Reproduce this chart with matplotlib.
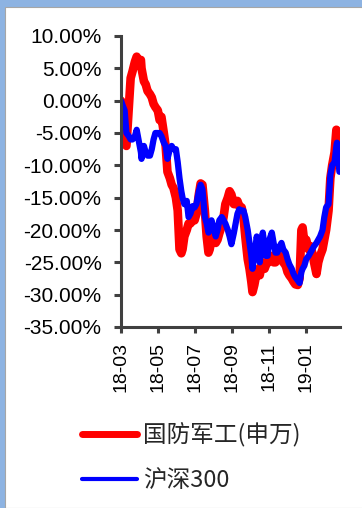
import pandas as pd
import matplotlib
matplotlib.use('Agg')
import matplotlib.pyplot as plt
import matplotlib.dates as mdates
from matplotlib.lines import Line2D
from matplotlib.patches import Rectangle
from matplotlib.ticker import FuncFormatter, MultipleLocator

# Cumulative return since 2018-03-01 (%)
dates = ['2018-03-01', '2018-03-04', '2018-03-07', '2018-03-10', '2018-03-14', '2018-03-17',
         '2018-03-20', '2018-03-24', '2018-03-27', '2018-03-30', '2018-04-03', '2018-04-04',
         '2018-04-08', '2018-04-11', '2018-04-14', '2018-04-18', '2018-04-21', '2018-04-24',
         '2018-04-27', '2018-05-01', '2018-05-04', '2018-05-07', '2018-05-11', '2018-05-14',
         '2018-05-17', '2018-05-21', '2018-05-24', '2018-05-27', '2018-05-31', '2018-06-03',
         '2018-06-06', '2018-06-09', '2018-06-11', '2018-06-14', '2018-06-18', '2018-06-21',
         '2018-06-24', '2018-06-28', '2018-07-01', '2018-07-04', '2018-07-08', '2018-07-11',
         '2018-07-14', '2018-07-18', '2018-07-21', '2018-07-24', '2018-07-26', '2018-07-29',
         '2018-08-01', '2018-08-05', '2018-08-08', '2018-08-11', '2018-08-15', '2018-08-18',
         '2018-08-21', '2018-08-25', '2018-08-28', '2018-08-31', '2018-09-04', '2018-09-07',
         '2018-09-10', '2018-09-13', '2018-09-17', '2018-09-20', '2018-09-23', '2018-09-27',
         '2018-09-30', '2018-10-03', '2018-10-05', '2018-10-08', '2018-10-12', '2018-10-15',
         '2018-10-17', '2018-10-20', '2018-10-22', '2018-10-25', '2018-10-27', '2018-10-30',
         '2018-11-02', '2018-11-06', '2018-11-09', '2018-11-12', '2018-11-15', '2018-11-19',
         '2018-11-22', '2018-11-25', '2018-11-29', '2018-12-02', '2018-12-05', '2018-12-09',
         '2018-12-12', '2018-12-15', '2018-12-19', '2018-12-22', '2018-12-25', '2018-12-27',
         '2018-12-30', '2019-01-02', '2019-01-06', '2019-01-09', '2019-01-12', '2019-01-15',
         '2019-01-19', '2019-01-22', '2019-01-25', '2019-01-29', '2019-02-01', '2019-02-04',
         '2019-02-08', '2019-02-11', '2019-02-14', '2019-02-18', '2019-02-21', '2019-02-22',
         '2019-02-26']

defense = [0.0, -2.5, -6.5, -7.0, -1.0, 3.5,
           4.5, 6.0, 6.8, 6.0, 6.3, 5.0,
           3.0, 2.5, 1.5, 1.0, 0.5, -0.5,
           -1.0, -1.5, -3.0, -2.5, -5.0, -7.0,
           -11.0, -12.0, -13.0, -13.5, -15.0, -17.0,
           -23.0, -23.6, -23.0, -21.0, -20.0, -19.0,
           -19.0, -18.5, -18.5, -17.5, -14.5, -12.8,
           -13.0, -17.0, -21.0, -23.5, -23.0, -21.5,
           -21.0, -22.0, -21.5, -20.5, -19.4, -18.0,
           -16.0, -15.0, -14.0, -14.5, -16.0, -16.0,
           -15.5, -16.3, -16.5, -18.0, -21.0, -24.5,
           -26.0, -28.0, -29.6, -28.5, -26.5, -26.0,
           -27.0, -25.5, -25.0, -26.0, -25.5, -25.0,
           -24.5, -24.0, -25.0, -25.0, -24.5, -24.0,
           -24.5, -25.0, -25.5, -26.5, -27.0, -27.5,
           -28.0, -28.4, -28.5, -27.5, -20.0, -19.6,
           -22.0, -21.5, -23.0, -22.5, -23.5, -25.0,
           -26.8, -25.0, -24.0, -23.0, -21.5, -20.0,
           -17.0, -12.0, -10.0, -8.0, -4.5, -5.0,
           -9.5]

hs300 = [0.0, -0.8, -1.5, -5.0, -5.5, -6.0,
         -6.0, -5.5, -4.5, -6.0, -8.0, -9.0,
         -7.0, -8.0, -8.5, -8.5, -7.5, -6.0,
         -5.0, -5.0, -5.0, -5.5, -6.5, -7.0,
         -9.0, -7.5, -7.0, -7.5, -7.5, -9.5,
         -12.0, -14.0, -15.0, -16.0, -15.5, -18.0,
         -17.5, -16.3, -16.5, -16.0, -14.0, -13.0,
         -13.7, -18.0, -19.0, -20.4, -20.0, -18.5,
         -19.5, -21.0, -20.0, -18.5, -18.0, -18.5,
         -19.0, -20.0, -21.0, -22.2, -20.5, -19.0,
         -17.5, -16.8, -17.0, -17.0, -18.0, -20.0,
         -22.0, -24.0, -26.0, -24.0, -21.0, -23.0,
         -25.0, -22.0, -20.4, -22.5, -24.0, -24.0,
         -21.5, -20.4, -22.0, -23.5, -23.5, -22.5,
         -22.0, -23.0, -23.5, -24.5, -25.3, -26.0,
         -26.8, -27.3, -27.8, -28.2, -26.5, -26.0,
         -25.5, -24.5, -24.0, -23.5, -23.0, -22.5,
         -22.0, -21.5, -21.0, -20.0, -18.0, -16.5,
         -16.0, -11.5, -10.0, -9.5, -7.0, -6.5,
         -11.0]

labels = ['国防军工(申万)', '沪深300']

df = pd.DataFrame({'date': pd.to_datetime(dates), 'defense': defense, 'hs300': hs300})

fig = plt.figure(figsize=(3.62, 5.08), dpi=100)
fig.patch.set_facecolor('#8db3e2')
fig.patches.append(Rectangle((5 / 362, 0), 1, 1 - 7 / 508, transform=fig.transFigure,
                             facecolor='white', edgecolor='#a6a6a6', linewidth=0.8, zorder=-1))

ax = fig.add_axes([121 / 362, 1 - 327 / 508, (340 - 121) / 362, (327 - 36) / 508])
ax.set_facecolor('none')
ax.set_zorder(1)

ax.plot(df['date'], df['defense'], color='#ff0000', linewidth=6.2, solid_joinstyle='round',
        solid_capstyle='round')
ax.plot(df['date'], df['hs300'], color='#0000ff', linewidth=4.5, solid_joinstyle='round',
        solid_capstyle='round')

ax.set_ylim(-35, 10)
ax.set_xlim(pd.Timestamp('2018-03-01'), pd.Timestamp('2019-02-27'))
ax.yaxis.set_major_locator(MultipleLocator(5))
ax.yaxis.set_major_formatter(FuncFormatter(lambda v, p: f'{v:.2f}%'))
ax.xaxis.set_major_locator(mdates.MonthLocator(bymonth=[1, 3, 5, 7, 9, 11]))
ax.xaxis.set_major_formatter(mdates.DateFormatter('%y-%m'))

for side in ['top', 'right']:
    ax.spines[side].set_visible(False)
for side in ['left', 'bottom']:
    ax.spines[side].set_color('#404040')
    ax.spines[side].set_linewidth(2.2)

ax.tick_params(axis='y', length=5, width=2.2, color='#404040', pad=9,
               labelsize=15, labelfontfamily='Liberation Sans')
ax.tick_params(axis='x', length=4, width=2.2, color='#404040', pad=7,
               labelsize=14, labelrotation=90, labelfontfamily='Liberation Sans')

# legend below the chart, thinner sample lines
handles = [Line2D([], [], color='#ff0000', linewidth=5, solid_capstyle='round'),
           Line2D([], [], color='#0000ff', linewidth=3, solid_capstyle='round')]
fig.legend(handles, labels, loc='upper left', bbox_to_anchor=(82 / 362, 1 - 423 / 508),
           frameon=False, borderpad=0, borderaxespad=0, handlelength=2.35,
           handletextpad=0.22, labelspacing=0.9,
           prop={'family': 'Noto Sans CJK SC', 'size': 17}, labelcolor='#262626')

fig.savefig('out.png', dpi=100, facecolor=fig.get_facecolor())
